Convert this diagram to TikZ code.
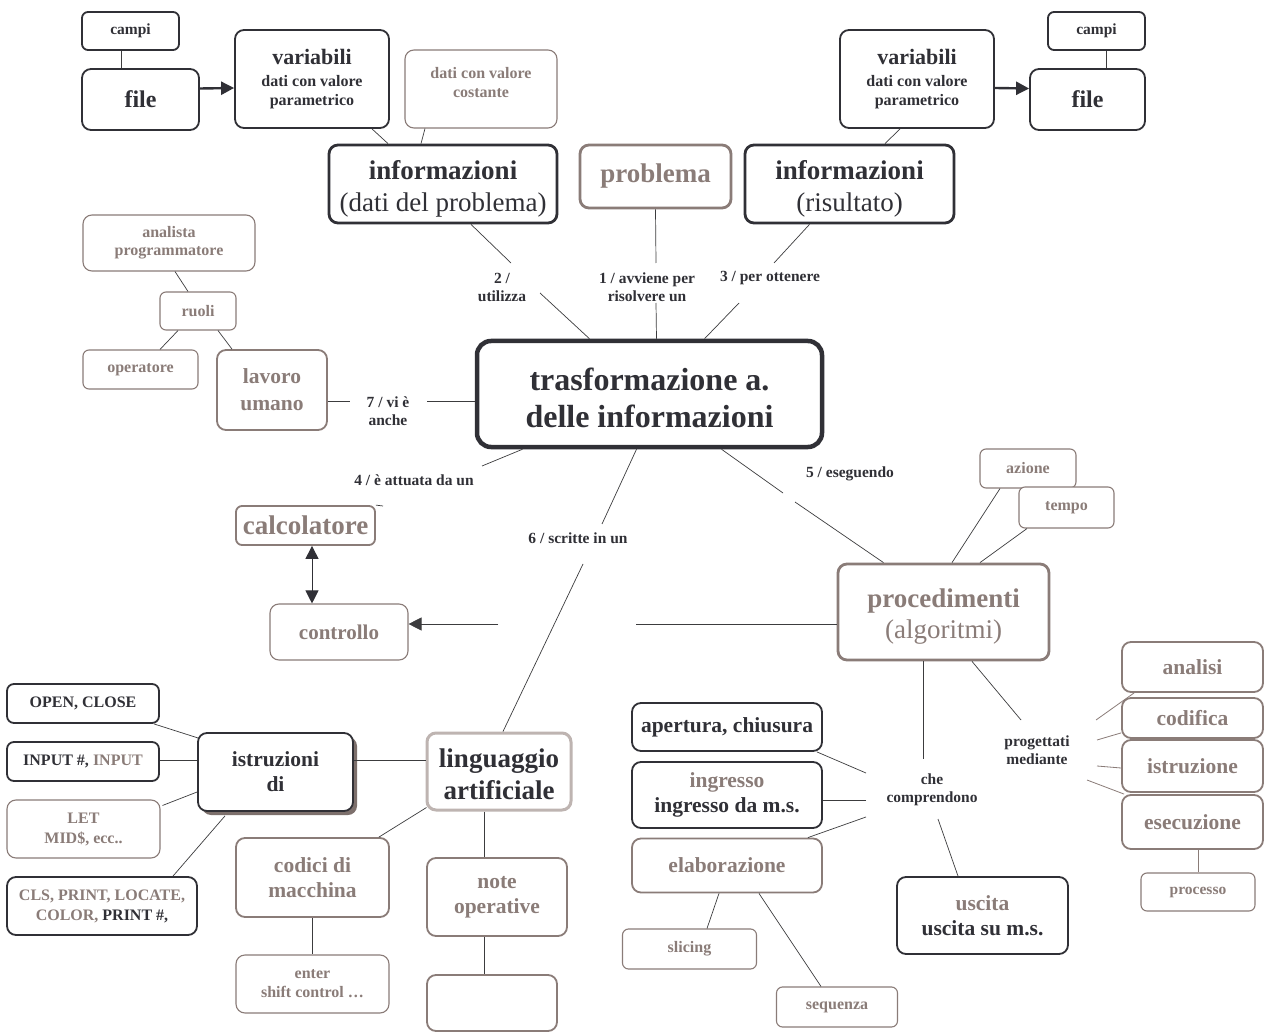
\documentclass[tikz,border=0pt]{standalone}
\usepackage{fontspec}
\setmainfont{Liberation Serif}
\usetikzlibrary{arrows.meta,calc,shadows}

\definecolor{ink}{RGB}{48,48,54}
\definecolor{taupe}{RGB}{138,124,120}
\definecolor{pale}{RGB}{190,180,177}
\definecolor{wirec}{RGB}{60,60,62}
\definecolor{shade}{RGB}{125,112,108}

\newcommand\fsz[2]{\fontsize{#1}{#2}\selectfont}

\tikzset{
  box/.style={draw, rounded corners=9pt, align=center, inner sep=0pt, fill=white},
  dk/.style={box, draw=ink, line width=1.8pt, text=ink},
  dkk/.style={box, draw=ink, line width=2.8pt, text=ink},
  br/.style={box, draw=taupe, line width=1.1pt, text=taupe},
  brr/.style={box, draw=taupe, line width=1.8pt, text=taupe},
  brrr/.style={box, draw=taupe, line width=2.8pt, text=taupe},
  sz/.style 2 args={minimum width=#1pt, minimum height=#2pt},
  lab/.style={inner sep=0pt, align=center, text=ink, font=\bfseries\fsz{15.5}{18}},
  wire/.style={draw=wirec, line width=0.7pt},
  bwire/.style={draw=taupe, line width=0.8pt},
  ctip/.tip={Triangle[length=13pt,width=13pt]},
}

\begin{document}
\begin{tikzpicture}[x=1pt,y=-1pt]
\fill[white] (0,0) rectangle (1267,1032);
\useasboundingbox (0,0) rectangle (1267,1032);

% ---- top row: data and results ----
\node[dk, rounded corners=6pt, sz={97}{38}, font=\bfseries\fsz{15.5}{17}] (campiL) at (130.5,31) {campi};
\node[dk, sz={117}{61}, font=\bfseries\fsz{24}{26}] (fileL) at (140.5,99.5) {file};
\node[dk, sz={154}{98}, font=\bfseries\fsz{16}{19}] (varL) at (312,79) {{\fsz{22}{22}variabili}\\[3pt]dati con valore\\parametrico};
\node[br, sz={152}{78}, font=\bfseries\fsz{16}{19}] (costL) at (481,89) {dati con valore\\costante\\[-6pt]};
\node[dkk, sz={228}{78}, font=\fsz{27}{32}] (infoL) at (443,184) {\\[-3pt]{\bfseries informazioni}\\(dati del problema)};
\node[brrr, sz={151}{63}, font=\bfseries\fsz{27}{30}] (problema) at (655.5,176.5) {problema};
\node[dkk, sz={209}{78}, font=\fsz{27}{32}] (infoR) at (849.5,184) {\\[-3pt]{\bfseries informazioni}\\(risultato)};
\node[dk, sz={154}{98}, font=\bfseries\fsz{16}{19}] (varR) at (917,79) {{\fsz{22}{22}variabili}\\[3pt]dati con valore\\parametrico};
\node[dk, sz={115}{61}, font=\bfseries\fsz{24}{26}] (fileR) at (1087.5,99.5) {file};
\node[dk, rounded corners=6pt, sz={97}{38}, font=\bfseries\fsz{15.5}{17}] (campiR) at (1096.5,31) {campi};

% ---- central concept ----
\node[box, draw=ink, line width=4.5pt, text=ink, rounded corners=14pt, sz={345}{106}, font=\bfseries\fsz{32}{37}] (trasf) at (649.5,394) {\\[-6pt]trasformazione a.\\delle informazioni};

% ---- roles ----
\node[br, sz={172}{56}, font=\bfseries\fsz{16}{18}] (analista) at (169,243) {analista\\programmatore};
\node[br, rounded corners=6pt, sz={76}{38}, font=\bfseries\fsz{16}{18}] (ruoli) at (198,311) {ruoli};
\node[br, rounded corners=6pt, sz={115}{39}, font=\bfseries\fsz{16}{18}] (operatore) at (140.5,369.5) {operatore};
\node[brr, sz={110}{80}, font=\bfseries\fsz{21.5}{27}] (lavoro) at (272,390) {lavoro\\umano};

% ---- computer ----
\node[brr, rounded corners=6pt, sz={139}{39}, font=\bfseries\fsz{27}{29}] (calcolatore) at (305.5,525.5) {calcolatore};
\node[br, sz={138}{56}, font=\bfseries\fsz{21}{23}] (controllo) at (339,632) {controllo};

% ---- procedures ----
\node[brrr, sz={211}{96}, font=\fsz{27}{31}] (procedimenti) at (943.5,612) {\\[-4pt]{\bfseries procedimenti}\\(algoritmi)};
\node[br, rounded corners=6pt, sz={96}{39}, font=\bfseries\fsz{16}{18}] (azione) at (1028,468.5) {azione};
\node[br, rounded corners=6pt, sz={95}{41}, font=\bfseries\fsz{16}{18}] (tempo) at (1066.5,507.5) {tempo};

\node[brr, sz={141}{50}, font=\bfseries\fsz{21.5}{24}] (analisi) at (1192.5,667) {analisi};
\node[brr, sz={141}{40}, font=\bfseries\fsz{21.5}{24}] (codifica) at (1192.5,718) {codifica};
\node[brr, sz={141}{52}, font=\bfseries\fsz{21.5}{24}] (istruzione) at (1192.5,766) {istruzione};
\node[brr, sz={141}{54}, font=\bfseries\fsz{21.5}{24}] (esecuzione) at (1192.5,822) {esecuzione};
\node[br, rounded corners=6pt, sz={114}{38}, font=\bfseries\fsz{15.5}{17}] (processo) at (1198,892) {processo};

\node[dk, sz={171}{77}, font=\bfseries\fsz{21.5}{25}] (uscita) at (982.5,915.5) {{\color{taupe}uscita}\\uscita su m.s.};
\node[dk, sz={190}{48}, font=\bfseries\fsz{21.5}{24}] (apertura) at (727,727) {apertura, chiusura};
\node[dk, sz={190}{66}, font=\bfseries\fsz{21.5}{25}] (ingresso) at (727,795) {{\color{taupe}ingresso}\\ingresso da m.s.};
\node[brr, sz={190}{54}, font=\bfseries\fsz{21.5}{24}] (elaborazione) at (727,865.5) {elaborazione};
\node[br, rounded corners=6pt, sz={134}{40}, font=\bfseries\fsz{16}{18}] (slicing) at (689.5,949) {slicing};
\node[br, rounded corners=6pt, sz={121}{40}, font=\bfseries\fsz{16}{18}] (sequenza) at (837,1007) {sequenza};

% ---- language ----
\node[box, draw=pale, line width=3pt, text=ink, sz={144}{77}, font=\bfseries\fsz{27}{32}] (linguaggio) at (499,771.5) {\\[-7pt]linguaggio\\artificiale};
\node[brr, sz={140}{78}, font=\bfseries\fsz{21.5}{25}] (note) at (497,897) {note\\operative};
\node[brr, sz={130}{56}] (vuoto) at (492,1003) {};

\node[dk, sz={155}{78}, font=\bfseries\fsz{21.5}{25},
      drop shadow={shadow xshift=4pt, shadow yshift=-4pt, fill=shade, opacity=1}] (istruzioni) at (275.5,772) {istruzioni\\di};
\node[brr, sz={153}{79}, font=\bfseries\fsz{21.5}{25}] (codici) at (312.5,877.5) {codici di\\macchina};
\node[br, sz={153}{58}, font=\bfseries\fsz{16}{19}] (enter) at (312.5,984) {enter\\shift control …};

\node[dk, rounded corners=7pt, sz={152}{39}, font=\bfseries\fsz{16}{18}] (open) at (83,703.5) {OPEN, CLOSE};
\node[dk, rounded corners=7pt, sz={152}{39}, font=\bfseries\fsz{16}{18}] (input) at (83,761.5) {INPUT \#, {\color{taupe}INPUT}};
\node[br, sz={153}{58}, font=\bfseries\fsz{16}{20}] (let) at (83.5,829) {LET\\MID\$, ecc..};
\node[dk, sz={190}{58}, font=\bfseries\fsz{16}{20}] (cls) at (102,906) {{\color{taupe}CLS, PRINT, LOCATE,}\\{\color{taupe}COLOR,} PRINT \#,};

% ---- linking phrases ----
\node[lab] (lab1) at (647,287) {1 / avviene per\\risolvere un};
\node[lab] (lab2) at (502,287) {2 /\\utilizza};
\node[lab] (lab3) at (770,278) {3 / per ottenere};
\node[lab] (lab4) at (414,480) {4 / è attuata da un};
\node[lab] (lab5) at (850,474) {5 / eseguendo};
\node[lab] (lab6) at (578,538) {6 / scritte in un};
\node[lab] (lab7) at (388,411) {7 / vi è\\anche};
\node[lab] (labche) at (932,790) {che\\comprendono};
\node[lab] (labprog) at (1037,750) {progettati\\mediante};

\coordinate (g1) at (636,624);
\coordinate (g2) at (498,624);

% ---- connectors: top row ----
\draw[wire] ($(campiL.south)+(-9.5,0)$) -- ($(fileL.north)+(-19.5,0)$);
\draw[wire] ($(campiR.south)+(9.5,0)$) -- ($(fileR.north)+(18.5,0)$);
\draw[draw=ink, line width=2.4pt, -ctip, fill=ink] ($(fileL.east)+(0,-11)$) -- ($(varL.west)+(0,9)$);
\draw[draw=ink, line width=2.4pt, -ctip, fill=ink] ($(varR.east)+(0,9)$) -- ($(fileR.west)+(0,-11)$);
\draw[wire] ($(varL.south)+(60,0)$) -- ($(infoL.north)+(-55,0)$);
\draw[wire] ($(costL.south)+(-56,0)$) -- ($(infoL.north)+(-22,0)$);
\draw[wire] ($(varR.south)+(-17,0)$) -- ($(infoR.north)+(35.5,0)$);

% ---- connectors: central concept ----
\draw[wire] (problema.south) -- ($(lab1)+(9,-24)$);
\draw[wire] ($(lab1)+(9,16)$) -- ($(trasf.north)+(7,0)$);
\draw[wire] ($(infoL.south)+(28,0)$) -- ($(lab2)+(9,-24)$);
\draw[wire] ($(lab2)+(38,6)$) -- ($(trasf.north)+(-60,0)$);
\draw[wire] ($(infoR.south)+(-40,0)$) -- ($(lab3)+(4,-15)$);
\draw[wire] ($(lab3)+(-31,25)$) -- ($(trasf.north)+(55,0)$);
\draw[wire] ($(lavoro.east)+(0,11)$) -- ($(lab7)+(-38,-10)$);
\draw[wire] ($(lab7)+(39,-10)$) -- ($(trasf.west)+(0,7)$);
\draw[wire] ($(trasf.south)+(-127,0)$) -- ($(lab4)+(68,-14)$);
\draw[wire] ($(lab4)+(-31,26)$) -- (calcolatore.north east);
\draw[wire] ($(trasf.south)+(-13,0)$) -- ($(lab6)+(24,-14)$);
\draw[wire] ($(lab6)+(5,26)$) -- ($(linguaggio.north)+(4,0)$);
\draw[wire] ($(trasf.south)+(72,0)$) -- ($(lab5)+(-67,19)$);
\draw[wire] ($(lab5)+(-55,28)$) -- ($(procedimenti.north)+(-60,0)$);

% ---- connectors: roles ----
\draw[wire] ($(analista.south)+(6,0)$) -- ($(ruoli.north)+(-10,0)$);
\draw[wire] ($(ruoli.south)+(-20,0)$) -- ($(operatore.north)+(19.5,0)$);
\draw[wire] ($(ruoli.south)+(20,0)$) -- ($(lavoro.north)+(-40,0)$);

% ---- connectors: computer ----
\draw[draw=ink, line width=1pt, ctip-ctip, fill=ink] ($(calcolatore.south)+(6.5,0)$) -- ($(controllo.north)+(-27,0)$);
\draw[wire] ($(procedimenti.west)+(0,12)$) -- (g1);
\draw[wire, -ctip, fill=ink] (g2) -- ($(controllo.east)+(0,-8)$);

% ---- connectors: procedures ----
\draw[wire] ($(azione.south)+(-28,0)$) -- ($(procedimenti.north)+(8.5,0)$);
\draw[wire] ($(tempo.south)+(-39.5,0)$) -- ($(procedimenti.north)+(36.5,0)$);
\draw[wire] ($(procedimenti.south)+(-20.5,0)$) -- ($(labche)+(-9,-31)$);
\draw[wire] ($(labche)+(6,29)$) -- ($(uscita.north)+(-24.5,0)$);
\draw[wire] ($(labche)+(-66,-17)$) -- ($(apertura.south east)+(-6,0)$);
\draw[wire] ($(labche)+(-66,10)$) -- ($(ingresso.east)+(0,5)$);
\draw[wire] ($(labche)+(-66,27)$) -- ($(elaborazione.north east)+(-15,0)$);
\draw[wire] ($(elaborazione.south)+(-8,0)$) -- ($(slicing.north)+(17.5,0)$);
\draw[wire] ($(elaborazione.south)+(32,0)$) -- ($(sequenza.north)+(-16,0)$);
\draw[wire] ($(procedimenti.south)+(28.5,0)$) -- ($(labprog)+(-16,-30)$);
\draw[bwire] ($(labprog)+(59,-30)$) -- ($(analisi.south west)+(13,0)$);
\draw[bwire] ($(labprog)+(60,-10)$) -- ($(codifica.south west)+(0,-6)$);
\draw[bwire] ($(labprog)+(60,16)$) -- ($(istruzione.west)+(0,2)$);
\draw[bwire] ($(labprog)+(50,30)$) -- ($(esecuzione.north west)+(3,0)$);
\draw[bwire] (processo.north |- esecuzione.south) -- (processo.north);

% ---- connectors: language ----
\draw[wire] ($(linguaggio.south)+(-15,0)$) -- ($(note.north)+(-13,0)$);
\draw[wire] ($(note.south)+(-13,0)$) -- ($(vuoto.north)+(-8,0)$);
\draw[wire] ($(linguaggio.west)+(0,-11.5)$) -- ($(istruzioni.east)+(0,-12)$);
\draw[wire] ($(linguaggio.south west)+(1,-4)$) -- ($(codici.north east)+(-11,0)$);
\draw[wire] (codici.south) -- (enter.north);
\draw[wire] ($(open.south east)+(-6,0)$) -- ($(istruzioni.west)+(1,-34)$);
\draw[wire] ($(input.east)+(0,-1.5)$) -- ($(istruzioni.west)+(0,-12)$);
\draw[wire] ($(let.north east)+(2,6)$) -- ($(istruzioni.west)+(0,20)$);
\draw[wire] ($(cls.north)+(71,0)$) -- ($(istruzioni.south)+(-50.5,4)$);
\end{tikzpicture}
\end{document}
